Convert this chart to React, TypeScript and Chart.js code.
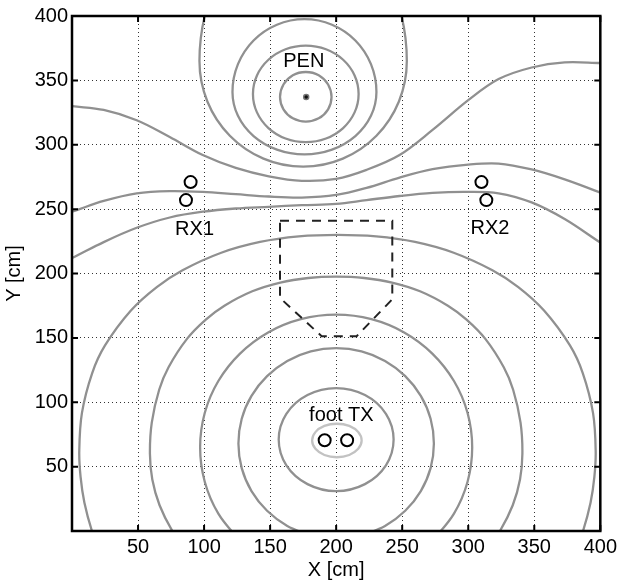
import React, { useEffect, useRef } from "react";
import { Chart, registerables } from "chart.js";

Chart.register(...registerables);

type P = [number, number];

// ---- axes ----
const X_TICKS = [0, 50, 100, 150, 200, 250, 300, 350, 400];
const Y_TICKS = [0, 50, 100, 150, 200, 250, 300, 350, 400];

// ---- contours around the PEN ----
const penRing1: P[] = [
  [196.5, 337], [193.9, 346.8], [186.8, 354], [177, 356.5], [167.2, 354], [160.1, 346.8],
  [157.5, 337], [160.1, 327.5], [167.2, 320.5], [177, 318], [186.8, 320.5], [193.9, 327.5],
];
const penRing2: P[] = [
  [217, 339.5], [213.96, 353.85], [205.28, 366.02], [192.31, 374.15], [177, 377], [161.69, 374.15],
  [148.72, 366.02], [140.04, 353.85], [137, 339.5], [140.04, 325.15], [148.72, 312.98], [161.69, 304.85],
  [177, 302], [192.31, 304.85], [205.28, 312.98], [213.96, 325.15],
];
const penRing3: P[] = [
  [230.5, 341], [226.35, 362.6], [214.54, 381], [196.86, 393.2], [176, 397.5], [155.14, 393.2],
  [137.46, 381], [125.65, 362.6], [121.5, 341], [125.65, 322.44], [137.46, 306.71], [155.14, 296.19],
  [176, 292.5], [196.86, 296.19], [214.54, 306.71], [226.35, 322.44],
];
const penRing4: P[] = [
  [119.49, 443.49], [102.48, 407.48], [96.5, 365], [102.48, 333.62], [119.49, 307.02], [144.96, 289.24],
  [175, 283], [205.04, 289.24], [230.51, 307.02], [247.52, 333.62], [253.5, 365], [247.52, 407.48],
  [230.51, 443.49],
];

// ---- wavy contours crossing the whole field ----
const waveA: P[] = [
  [-10, 331.5], [0, 330], [24, 327], [49, 319], [74, 306], [99, 292], [124, 282], [149, 275.5],
  [174, 272], [200, 273.5], [223, 280.5], [248, 292], [273, 311.5], [300, 334.6], [323, 351],
  [348, 360], [373, 364], [400, 363.5], [410, 363.3],
];
const waveB: P[] = [
  [-10, 245], [0, 248], [24, 256.4], [49, 262.3], [74, 264], [99, 263.4], [124, 261.6], [149, 259.8],
  [174, 259], [200, 261], [223, 266.5], [248, 274.5], [273, 281], [300, 284.6], [323, 285.4],
  [348, 280.8], [373, 273.1], [400, 262.8], [410, 258.5],
];
const waveC: P[] = [
  [-10, 207.5], [0, 212], [24, 224.4], [49, 235.5], [74, 243.5], [99, 248], [124, 250.5], [149, 251.8],
  [174, 253.1], [200, 254], [223, 257], [248, 260.2], [273, 262.6], [298, 263.4], [323, 262.3],
  [348, 255.2], [373, 242.3], [400, 224], [410, 217.5],
];

// ---- contours around the foot TX ----
const txRing0: P[] = [
  [219.3, 70.3], [216.7, 76.8], [209.9, 81.6], [200.5, 83.3], [191.1, 81.6], [184.3, 76.8],
  [181.8, 70.3], [184.3, 63.8], [191.1, 59], [200.5, 57.3], [209.9, 59], [216.7, 63.8],
];
const txRing1: P[] = [
  [243.5, 71], [237.7, 91], [221.8, 105.6], [200, 111], [178.3, 105.6], [162.3, 91],
  [156.5, 71], [162.3, 51], [178.3, 36.4], [200, 31], [221.8, 36.4], [237.7, 51],
];
const txRing2: P[] = [
  [180.8, -3.5], [163, 3.9], [147.7, 15.7], [135.9, 31], [128.5, 48.8], [126, 68], [128.5, 87.2],
  [135.9, 105], [147.7, 120.3], [163, 132.1], [180.8, 139.5], [200, 142], [219.2, 139.5], [237, 132.1],
  [252.3, 120.3], [264.1, 105], [271.5, 87.2], [274, 68], [271.5, 48.8], [264.1, 31], [252.3, 15.7],
  [237, 3.9], [219.2, -3.5],
];
const txRing3: P[] = [
  [127.2, -7.8], [110.8, 13.5], [100.5, 38.3], [97, 65], [100.5, 91.7], [110.8, 116.5], [127.2, 137.8],
  [148.5, 154.2], [173.3, 164.5], [200, 168], [226.7, 164.5], [251.5, 154.2], [272.8, 137.8],
  [289.2, 116.5], [299.5, 91.7], [303, 65], [299.5, 38.3], [289.2, 13.5], [272.8, -7.8],
];
const txRing4: P[] = [
  [86.7, -15], [76, 0], [66.3, 20], [60.8, 40], [59, 60], [60.4, 84.2], [66, 109.7], [73.1, 127.2],
  [87.2, 149.4], [101.3, 164.2], [115.4, 175], [136.5, 186.2], [157.7, 193], [178.9, 196.5], [200, 197.5],
  [221.2, 196.5], [242.3, 193], [263.5, 186.2], [284.6, 175], [298.7, 164.2], [312.8, 149.4],
  [326.9, 127.2], [334, 109.7], [339.6, 84.2], [341, 60], [339.2, 40], [333.7, 20], [324, 0], [313.3, -15],
];
const txRing5: P[] = [
  [21.7, -18], [15.1, 0], [9.4, 22], [6.5, 42], [5.5, 62], [7.5, 91.6], [15.3, 122.7], [25, 144.1],
  [44.6, 171.2], [64.2, 189.4], [83.7, 202.5], [113, 216.1], [142.4, 224.5], [171.7, 228.8], [201, 230],
  [230.3, 228.8], [259.7, 224.5], [289, 216.1], [318.3, 202.5], [337.9, 189.4], [357.4, 171.2],
  [377, 144.1], [386.7, 122.7], [394.5, 91.6], [396.5, 62], [395.5, 42], [392.6, 22], [386.9, 0],
  [380.3, -18],
];

// ---- dashed region, antennas, labels ----
const dashedRegion: P[] = [
  [157.5, 241], [242.5, 241], [242.5, 180], [215.5, 151.3], [189, 151.3], [157.5, 181], [157.5, 241],
];
const rxMarkers: P[] = [[89.8, 271], [86.3, 257], [310, 271], [313.7, 257]];
const txMarkers: P[] = [[191.3, 70.5], [208.3, 70.5]];
const penMarker: P[] = [[177.3, 337]];
const labelTexts = ["PEN", "RX1", "RX2", "foot TX"];
const labelPositions: P[] = [[175.5, 364.6], [92.8, 234.5], [316.5, 234.9], [203.9, 89.8]];

const FONT_FAMILY = '"Liberation Sans", Arial, Helvetica, sans-serif';
const FONT_SIZE = 20;
const GRAY = "#909090";
const LIGHT_GRAY = "#c2c2c2";

function toXY(pts: P[]) {
  return pts.map(([x, y]) => ({ x, y }));
}

function contour(pts: P[], closed: boolean, color: string) {
  const src = closed ? [pts[pts.length - 1], ...pts, pts[0], pts[1]] : pts;
  const data = toXY(src);
  const last = data.length - 1;
  const ds: any = {
    data,
    showLine: true,
    borderColor: color,
    borderWidth: 2.3,
    pointRadius: 0,
    pointHoverRadius: 0,
    pointHitRadius: 0,
    tension: 0.35,
    fill: false,
    order: 3,
  };
  if (closed) {
    ds.segment = {
      borderColor: (c: any) =>
        c.p0DataIndex === 0 || c.p1DataIndex === last ? "rgba(0,0,0,0)" : undefined,
    };
  }
  return ds;
}

const framePlugin = {
  id: "framePlugin",
  afterDatasetsDraw(chart: any) {
    const { ctx, chartArea: a, scales } = chart;
    const xs = scales.x;
    const ys = scales.y;
    ctx.save();
    ctx.fillStyle = "#000";
    ctx.font = `${FONT_SIZE}px ${FONT_FAMILY}`;
    ctx.textAlign = "center";
    ctx.textBaseline = "middle";
    labelTexts.forEach((t, i) => {
      ctx.fillText(t, xs.getPixelForValue(labelPositions[i][0]), ys.getPixelForValue(labelPositions[i][1]));
    });
    ctx.strokeStyle = "#000";
    ctx.lineWidth = 2;
    const tl = 6;
    ctx.beginPath();
    X_TICKS.forEach((v) => {
      const px = xs.getPixelForValue(v);
      ctx.moveTo(px, a.bottom);
      ctx.lineTo(px, a.bottom - tl);
      ctx.moveTo(px, a.top);
      ctx.lineTo(px, a.top + tl);
    });
    Y_TICKS.forEach((v) => {
      const py = ys.getPixelForValue(v);
      ctx.moveTo(a.left, py);
      ctx.lineTo(a.left + tl, py);
      ctx.moveTo(a.right, py);
      ctx.lineTo(a.right - tl, py);
    });
    ctx.stroke();
    ctx.lineWidth = 2.5;
    ctx.strokeRect(a.left, a.top, a.right - a.left, a.bottom - a.top);
    ctx.restore();
  },
};

export default function App() {
  const ref = useRef<HTMLCanvasElement | null>(null);

  useEffect(() => {
    if (!ref.current) return;
    const font = { family: FONT_FAMILY, size: FONT_SIZE };
    const markerBase = {
      showLine: false,
      pointRadius: 6,
      pointHoverRadius: 6,
      pointBorderWidth: 2,
      pointBorderColor: "#000",
      pointBackgroundColor: "rgba(255,255,255,0)",
      order: 0,
    };
    const datasets: any[] = [
      { ...markerBase, data: toXY(rxMarkers) },
      { ...markerBase, data: toXY(txMarkers) },
      {
        data: toXY(penMarker),
        showLine: false,
        pointRadius: 2.5,
        pointHoverRadius: 2.5,
        pointBorderWidth: 1.5,
        pointBorderColor: "#777",
        pointBackgroundColor: "#111",
        order: 0,
      },
      {
        data: toXY(dashedRegion),
        showLine: true,
        borderColor: "#222",
        borderWidth: 2,
        borderDash: [9, 7],
        pointRadius: 0,
        pointHoverRadius: 0,
        tension: 0,
        order: 1,
      },
      contour(penRing1, true, GRAY),
      contour(penRing2, true, GRAY),
      contour(penRing3, true, GRAY),
      contour(penRing4, false, GRAY),
      contour(waveA, false, GRAY),
      contour(waveB, false, GRAY),
      contour(waveC, false, GRAY),
      contour(txRing0, true, LIGHT_GRAY),
      contour(txRing1, true, GRAY),
      contour(txRing2, false, GRAY),
      contour(txRing3, false, GRAY),
      contour(txRing4, false, GRAY),
      contour(txRing5, false, GRAY),
    ];

    const chart = new Chart(ref.current, {
      type: "scatter",
      data: { datasets },
      options: {
        responsive: false,
        animation: false,
        devicePixelRatio: 1,
        layout: { padding: { top: 11.5, right: 17, left: 0, bottom: 0 } },
        plugins: { legend: { display: false }, tooltip: { enabled: false } },
        elements: { line: { capBezierPoints: false } as any },
        events: [],
        scales: {
          x: {
            type: "linear",
            min: 0,
            max: 400,
            afterBuildTicks: (s: any) => {
              s.ticks = X_TICKS.map((v) => ({ value: v }));
            },
            afterFit: (s: any) => {
              s.height = 51;
            },
            ticks: {
              callback: (v: any) => (v === 0 ? "" : String(v)),
              color: "#000",
              font,
              padding: 4,
              maxRotation: 0,
              autoSkip: false,
            },
            grid: { color: "#333", lineWidth: 1, drawTicks: false },
            border: { display: false, dash: [1, 3] },
            title: { display: true, text: "X [cm]", color: "#000", font, padding: { top: 0, bottom: 0 } },
          },
          y: {
            type: "linear",
            min: 0,
            max: 400,
            afterBuildTicks: (s: any) => {
              s.ticks = Y_TICKS.map((v) => ({ value: v }));
            },
            afterFit: (s: any) => {
              s.width = 72;
            },
            ticks: {
              callback: (v: any) => (v === 0 ? "" : String(v)),
              color: "#000",
              font,
              padding: 4,
              autoSkip: false,
            },
            grid: { color: "#333", lineWidth: 1, drawTicks: false },
            border: { display: false, dash: [1, 3] },
            title: { display: true, text: "Y [cm]", color: "#000", font, padding: { top: 2, bottom: 0 } },
          },
        },
      } as any,
      plugins: [framePlugin],
    });
    return () => chart.destroy();
  }, []);

  return (
    <canvas
      ref={ref}
      width={621}
      height={582}
      style={{ position: "fixed", left: 0, top: 0, width: 621, height: 582, background: "#fff" }}
    />
  );
}
